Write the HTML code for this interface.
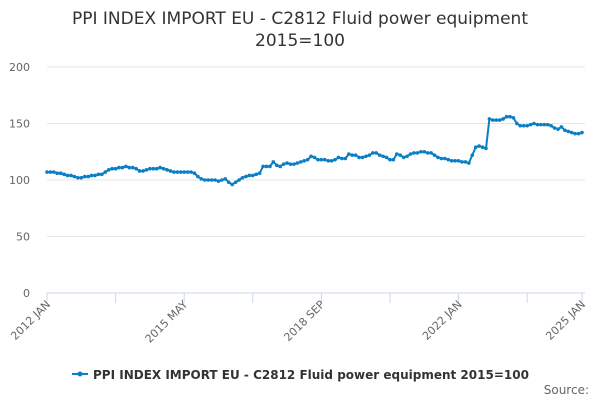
<!DOCTYPE html>
<html><head><meta charset="utf-8"><style>
body{margin:0;background:#fff;font-family:"Liberation Sans","DejaVu Sans",sans-serif;}
svg text{font-family:"DejaVu Sans","Liberation Sans",sans-serif;}
</style></head><body>
<svg width="600" height="400">
<text x="300" y="24" text-anchor="middle" font-size="17" fill="#333">PPI INDEX IMPORT EU - C2812 Fluid power equipment</text>
<text x="300" y="46" text-anchor="middle" font-size="17" fill="#333">2015=100</text>
<g id="grid"></g><g id="xax"></g><g id="series"></g>
<g>
<line x1="72" y1="374" x2="88" y2="374" stroke="#0a7fc4" stroke-width="2"/>
<circle cx="80" cy="374" r="2.5" fill="#0a7fc4"/>
<text x="93" y="379" font-size="12" font-weight="bold" fill="#333">PPI INDEX IMPORT EU - C2812 Fluid power equipment 2015=100</text>
</g>
<text x="589" y="394" text-anchor="end" font-size="12" fill="#666">Source:</text>
</svg>
<script>
const yTicks=[0,50,100,150,200];
const xLabels=["2012 JAN","2015 MAY","2018 SEP","2022 JAN","2025 JAN"];
const xLabelIdx=[0,40,80,120,156];
const values=[
107,107,107,106,106,105,104,104,103,102,102,103,
103,104,104,105,105,107,109,110,110,111,111,112,
111,111,110,108,108,109,110,110,110,111,110,109,
108,107,107,107,107,107,107,106,103,101,100,100,
100,100,99,100,101,98,96,98,100,102,103,104,
104,105,106,112,112,112,116,113,112,114,115,114,
114,115,116,117,118,121,120,118,118,118,117,117,
118,120,119,119,123,122,122,120,120,121,122,124,
124,122,121,120,118,118,123,122,120,121,123,124,
124,125,125,124,124,122,120,119,119,118,117,117,
117,116,116,115,122,129,130,129,128,154,153,153,
153,154,156,156,155,150,148,148,148,149,150,149,
149,149,149,148,146,145,147,144,143,142,141,141,
142];
const NS="http://www.w3.org/2000/svg";
const x0=47,x1=582,y0=293,yTop=67;
const xs=i=>x0+(x1-x0)*i/(values.length-1);
const ys=v=>y0-(y0-yTop)*v/200;
function mk(t,a,p){const e=document.createElementNS(NS,t);for(const k in a)e.setAttribute(k,a[k]);p.appendChild(e);return e;}
const grid=document.getElementById('grid');
yTicks.forEach(v=>{
 const l=mk('line',{x1:x0,x2:585,y1:ys(v),y2:ys(v),stroke:v===0?'#ccd6eb':'#e6e6e6'},grid);
 
 
 const t=mk('text',{x:30,y:ys(v)+4,'text-anchor':'end','font-size':11,fill:'#666'},grid);
 t.textContent=v;
 
 
});
const xax=document.getElementById('xax');
for(let i=0;i<=156;i+=20){const tk=mk('line',{x1:xs(i),x2:xs(i),y1:y0,y2:y0+10,stroke:'#ccd6eb'},xax);
 
 }
mk('line',{x1:xs(156),x2:xs(156),y1:y0,y2:y0+10,stroke:'#ccd6eb'},xax);
xLabels.forEach((s,k)=>{const x=xs(xLabelIdx[k]);
 const t=mk('text',{x:x+4,y:y0+12,'text-anchor':'end','font-size':11,fill:'#666',transform:`rotate(-45 ${x+4} ${y0+12})`},xax);
 t.textContent=s;
 
 });
const sg=document.getElementById('series');
const p=mk('path',{d:values.map((v,i)=>(i?'L':'M')+xs(i).toFixed(1)+' '+ys(v).toFixed(1)).join(''),fill:'none',stroke:'#0a7fc4','stroke-width':2},sg);


values.forEach((v,i)=>{const c=mk('circle',{cx:xs(i),cy:ys(v),r:1.8,fill:'#0a7fc4'},sg);
 
 });
</script>
</body></html>
